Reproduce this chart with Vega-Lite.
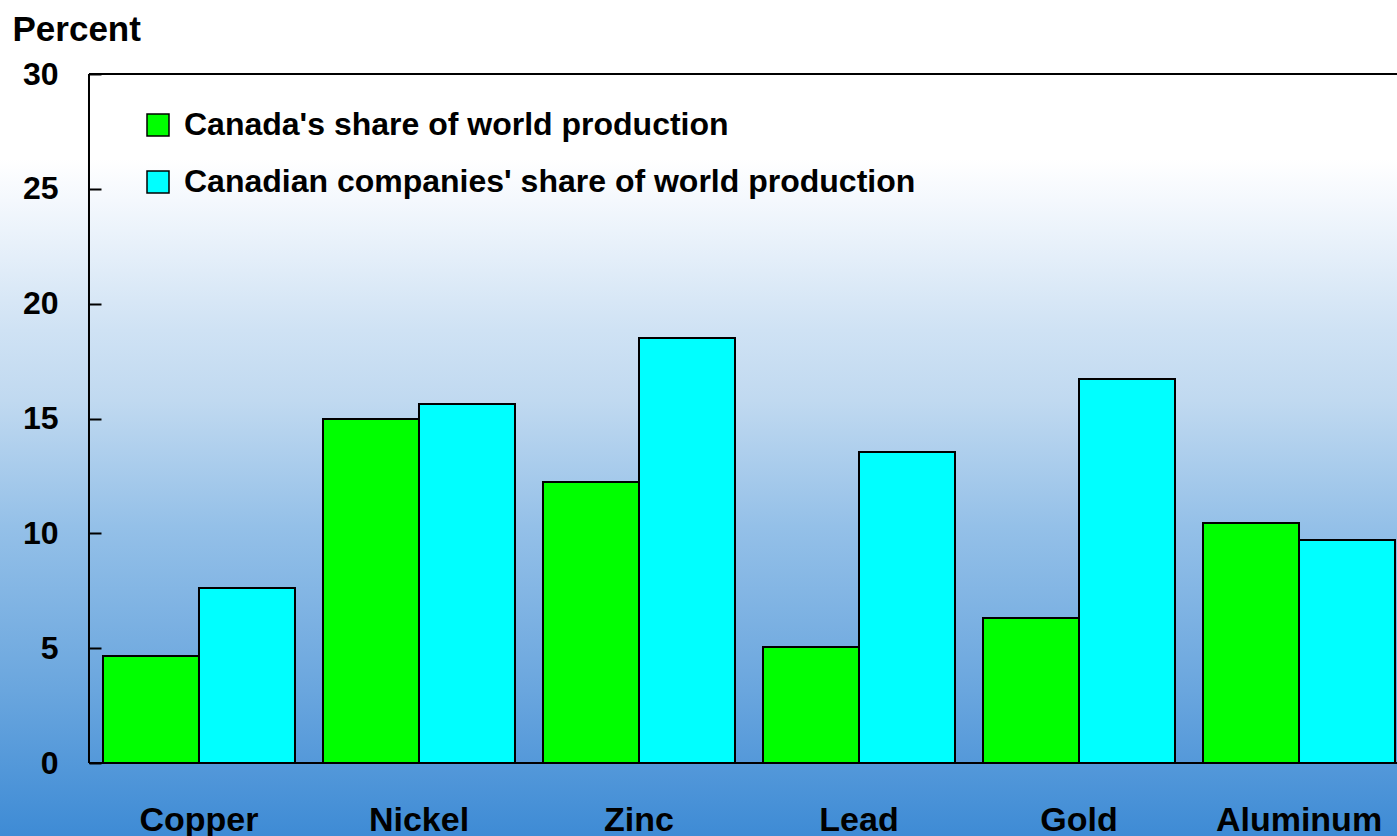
{
  "$schema": "https://vega.github.io/schema/vega-lite/v6.json",
  "width": 1397,
  "height": 836,
  "autosize": {"type": "none"},
  "padding": 0,
  "background": "white",
  "config": {
    "view": {"stroke": null, "fill": {"gradient": "linear", "x1": 0, "y1": 0, "x2": 0, "y2": 1, "stops": [
      {"offset": 0, "color": "#ffffff"},
      {"offset": 0.19, "color": "#ffffff"},
      {"offset": 0.24, "color": "#f4f8fd"},
      {"offset": 0.395, "color": "#cfe2f4"},
      {"offset": 0.48, "color": "#c0d9f0"},
      {"offset": 0.63, "color": "#94c0e8"},
      {"offset": 0.825, "color": "#6aa6de"},
      {"offset": 1, "color": "#3e8bd5"}
    ]}},
    "font": "Liberation Sans",
    "axis": {"labelFont": "Liberation Sans", "labelFontWeight": "bold", "labelColor": "black", "titleFont": "Liberation Sans", "titleFontWeight": "bold", "titleColor": "black", "grid": false},
    "legend": {"labelFont": "Liberation Sans", "labelFontWeight": "bold", "labelColor": "black"}
  },
  "layer": [
    {
      "data": {"values": [
        {"mineral": "Copper", "series": "Canada's share of world production", "value": 4.66},
        {"mineral": "Copper", "series": "Canadian companies' share of world production", "value": 7.62},
        {"mineral": "Nickel", "series": "Canada's share of world production", "value": 14.98},
        {"mineral": "Nickel", "series": "Canadian companies' share of world production", "value": 15.63},
        {"mineral": "Zinc", "series": "Canada's share of world production", "value": 12.23},
        {"mineral": "Zinc", "series": "Canadian companies' share of world production", "value": 18.5},
        {"mineral": "Lead", "series": "Canada's share of world production", "value": 5.05},
        {"mineral": "Lead", "series": "Canadian companies' share of world production", "value": 13.54},
        {"mineral": "Gold", "series": "Canada's share of world production", "value": 6.31},
        {"mineral": "Gold", "series": "Canadian companies' share of world production", "value": 16.72},
        {"mineral": "Aluminum", "series": "Canada's share of world production", "value": 10.45},
        {"mineral": "Aluminum", "series": "Canadian companies' share of world production", "value": 9.71}
      ]},
      "mark": {"type": "bar", "stroke": "black", "strokeWidth": 2},
      "encoding": {
        "x": {
          "field": "mineral", "type": "nominal", "sort": ["Copper", "Nickel", "Zinc", "Lead", "Gold", "Aluminum"],
          "scale": {"paddingInner": 0.12727, "paddingOuter": 0.2386, "align": 0.981},
          "axis": {"title": null, "orient": "bottom", "offset": -73, "ticks": false, "domain": false, "labelFontSize": 34, "labelPadding": 40, "labelAngle": 0}
        },
        "xOffset": {
          "field": "series", "type": "nominal",
          "scale": {"paddingInner": 0, "paddingOuter": 0}
        },
        "y": {
          "field": "value", "type": "quantitative",
          "scale": {"domain": [-3.1785, 33.2221], "nice": false, "zero": false},
          "axis": {"values": [0, 5, 10, 15, 20, 25, 30], "offset": -89, "domain": false, "title": "Percent", "titleAngle": 0, "titleAlign": "left", "titleBaseline": "alphabetic", "titleX": -77, "titleY": 40, "titleFontSize": 35, "labelFontSize": 32, "labelPadding": 43, "tickSize": -12, "tickWidth": 2, "tickColor": "black"}
        },
        "color": {
          "field": "series", "type": "nominal",
          "scale": {"domain": ["Canada's share of world production", "Canadian companies' share of world production"], "range": ["#00ff00", "#00ffff"]},
          "legend": {"title": null, "orient": "none", "legendX": 142, "legendY": 109, "symbolType": "square", "symbolSize": 484, "symbolStrokeColor": "black", "symbolStrokeWidth": 1.5, "symbolOpacity": 1, "labelFontSize": 32, "labelOffset": 10, "rowPadding": 25, "labelLimit": 1000}
        }
      }
    },
    {
      "data": {"values": [{"edge": "left"}]},
      "mark": {"type": "rule", "color": "black", "strokeWidth": 2},
      "encoding": {
        "x": {"datum": "Copper", "type": "nominal", "bandPosition": -0.0729},
        "y": {"datum": 0, "type": "quantitative"},
        "y2": {"datum": 30}
      }
    },
    {
      "data": {"values": [{"level": 0}, {"level": 30}]},
      "mark": {"type": "rule", "color": "black", "strokeWidth": 2},
      "encoding": {
        "x": {"datum": "Copper", "type": "nominal", "bandPosition": -0.0729},
        "x2": {"value": "width"},
        "y": {"field": "level", "type": "quantitative"}
      }
    }
  ]
}
